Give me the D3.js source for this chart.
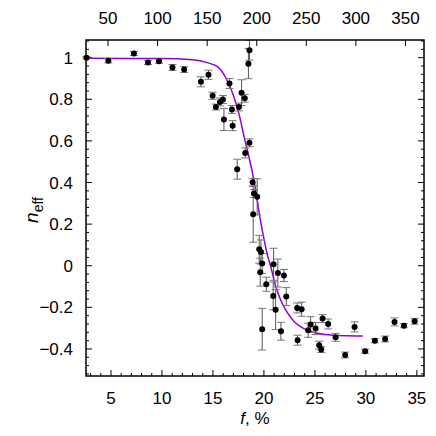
<!DOCTYPE html>
<html>
<head>
<meta charset="utf-8">
<script src="https://cdn.jsdelivr.net/npm/d3@7"></script>
<style>
  body { margin: 0; background: #fff; }
  svg text { font-family: "Liberation Sans", Arial, sans-serif; fill: #000; }
</style>
</head>
<body>
<div id="chart"></div>
<script>
// datos medidos
const fVals = [2.6, 4.74, 7.25, 8.63, 9.71, 11.03, 12.18, 13.82, 14.56, 14.97,
  15.29, 15.69, 15.98, 16.08, 16.93, 16.62, 16.86, 17.55, 17.81, 18.12,
  18.48, 18.58, 17.38, 18.17, 18.58, 18.89, 19.02, 19.34, 18.95, 19.54,
  19.71, 19.83, 19.64, 20.23, 19.83, 20.95, 21.37, 21.96, 20.91, 21.15,
  22.19, 21.67, 23.26, 23.70, 23.30, 24.34, 24.58, 25.07, 25.75, 26.30,
  25.42, 25.62, 27.03, 27.97, 28.89, 29.93, 30.88, 31.89, 32.81, 33.73, 34.78];
const nVals = [1.00, 0.985, 1.02, 0.977, 0.983, 0.953, 0.943, 0.884, 0.918, 0.817,
  0.763, 0.787, 0.799, 0.703, 0.673, 0.876, 0.751, 0.763, 0.832, 0.805,
  0.971, 1.036, 0.464, 0.542, 0.591, 0.401, 0.347, 0.331, 0.248, 0.079,
  0.066, 0.011, -0.031, -0.089, -0.305, 0.007, -0.035, -0.047, -0.145, -0.211,
  -0.148, -0.315, -0.203, -0.209, -0.358, -0.310, -0.283, -0.302, -0.254, -0.280,
  -0.382, -0.403, -0.344, -0.429, -0.294, -0.411, -0.360, -0.352, -0.270, -0.288, -0.267];
const nErr = [0.005, 0.01, 0.01, 0.01, 0.01, 0.014, 0.014, 0.024, 0.022, 0.017,
  0.014, 0.019, 0.019, 0.053, 0.024, 0.024, 0.019, 0.019, 0.062, 0.019,
  0.072, 0.048, 0.048, 0.024, 0.019, 0.019, 0.019, 0.087, 0.135, 0.067,
  0.058, 0.048, 0.067, 0.034, 0.10, 0.077, 0.067, 0.029, 0.067, 0.096,
  0.043, 0.043, 0.024, 0.034, 0.024, 0.034, 0.038, 0.029, 0.019, 0.024,
  0.019, 0.014, 0.019, 0.014, 0.024, 0.01, 0.01, 0.014, 0.019, 0.01, 0.014];

// curva de ajuste
const curveF = [2.55, 10, 13, 14.5, 15.5, 16.3, 17.0, 17.6, 18.1, 18.5, 18.9, 19.3,
  19.65, 20.0, 20.3, 20.7, 21.1, 21.6, 22.1, 23.0, 24.0, 25.0, 26.5, 28.0, 29.7];
const curveN = [0.997, 0.996, 0.99, 0.975, 0.955, 0.90, 0.82, 0.72, 0.61, 0.53, 0.44, 0.33,
  0.22, 0.13, 0.06, -0.01, -0.09, -0.16, -0.21, -0.27, -0.305, -0.322, -0.333, -0.337, -0.338];

const xTicks = [5, 10, 15, 20, 25, 30, 35];
const x2Ticks = [50, 100, 150, 200, 250, 300, 350];
const yTicks = [-0.4, -0.2, 0, 0.2, 0.4, 0.6, 0.8, 1];

const width = 436, height = 436;
const mLeft = 86, mRight = 424, mTop = 40, mBottom = 376;

const svg = d3.select('#chart')
    .append('svg')
    .attr('width', width)
    .attr('height', height);

svg.append('rect').attr('width', width).attr('height', height).attr('fill', '#fff');

let x = d3.scaleLinear().domain([2.55, 35.7]).range([mLeft, mRight]);
let x2 = d3.scaleLinear().domain([27.8, 368.7]).range([mLeft, mRight]);
let y = d3.scaleLinear().domain([-0.53, 1.085]).range([mBottom, mTop]);

// ticks
const minorX = d3.range(3, 36, 1).filter(d => !xTicks.includes(d));
const minorY = d3.range(-13, 28, 1).map(d => +(d * 0.04).toFixed(2))
    .filter(d => y(d) > mTop + 1 && y(d) < mBottom - 1 && !yTicks.some(t => Math.abs(t - d) < 1e-6));

const tk = svg.append('g').attr('stroke', '#000').attr('stroke-width', 1);

xTicks.forEach(d => {
    tk.append('line').attr('x1', x(d)).attr('x2', x(d)).attr('y1', mBottom).attr('y2', mBottom - 6);
});
minorX.forEach(d => {
    tk.append('line').attr('x1', x(d)).attr('x2', x(d)).attr('y1', mBottom).attr('y2', mBottom - 3);
});
x2Ticks.forEach(d => {
    tk.append('line').attr('x1', x2(d)).attr('x2', x2(d)).attr('y1', mTop).attr('y2', mTop + 6);
});
yTicks.forEach(d => {
    tk.append('line').attr('x1', mLeft).attr('x2', mLeft + 6).attr('y1', y(d)).attr('y2', y(d));
    tk.append('line').attr('x1', mRight).attr('x2', mRight - 6).attr('y1', y(d)).attr('y2', y(d));
});
minorY.forEach(d => {
    tk.append('line').attr('x1', mLeft).attr('x2', mLeft + 3).attr('y1', y(d)).attr('y2', y(d));
    tk.append('line').attr('x1', mRight).attr('x2', mRight - 3).attr('y1', y(d)).attr('y2', y(d));
});

// etiquetas
svg.selectAll('.xl').data(xTicks).enter().append('text')
    .attr('x', d => x(d)).attr('y', 404)
    .attr('text-anchor', 'middle').attr('font-size', 17)
    .text(d => d);

svg.selectAll('.x2l').data(x2Ticks).enter().append('text')
    .attr('x', d => x2(d)).attr('y', 24)
    .attr('text-anchor', 'middle').attr('font-size', 17)
    .text(d => d);

svg.selectAll('.yl').data(yTicks).enter().append('text')
    .attr('x', 73).attr('y', d => y(d) + 6)
    .attr('text-anchor', 'end').attr('font-size', 17)
    .text(d => d3.format('')(+d.toFixed(1)));

const xt = svg.append('text').attr('x', 255).attr('y', 424)
    .attr('text-anchor', 'middle').attr('font-size', 17);
xt.append('tspan').attr('font-style', 'italic').text('f');
xt.append('tspan').text(', %');

const yt = svg.append('text')
    .attr('transform', 'translate(38,' + 210 + ') rotate(-90)')
    .attr('text-anchor', 'middle').attr('font-size', 19);
yt.append('tspan').attr('font-style', 'italic').text('n');
yt.append('tspan').attr('font-size', 14).attr('dy', 5).text('eff');

// curva
const line = d3.line()
    .x((d, i) => x(curveF[i]))
    .y(d => y(d))
    .curve(d3.curveMonotoneX);

svg.append('path')
    .datum(curveN)
    .attr('d', line)
    .attr('fill', 'none')
    .attr('stroke', '#9400d3')
    .attr('stroke-width', 1.5);

// barras de error
const eb = svg.append('g').attr('stroke', '#555').attr('stroke-width', 1);
fVals.forEach((f, i) => {
    let cx = x(f), y0 = y(nVals[i] - nErr[i]), y1 = y(nVals[i] + nErr[i]);
    eb.append('line').attr('x1', cx).attr('x2', cx).attr('y1', y0).attr('y2', y1);
    eb.append('line').attr('x1', cx - 4).attr('x2', cx + 4).attr('y1', y0).attr('y2', y0).attr('stroke', '#777');
    eb.append('line').attr('x1', cx - 4).attr('x2', cx + 4).attr('y1', y1).attr('y2', y1).attr('stroke', '#777');
});

// puntos
svg.selectAll('.pt')
    .data(fVals)
    .enter()
    .append('circle')
    .attr('cx', d => x(d))
    .attr('cy', (d, i) => y(nVals[i]))
    .attr('r', 3)
    .attr('fill', '#000');

// marco
svg.append('rect')
    .attr('x', mLeft).attr('y', mTop)
    .attr('width', mRight - mLeft).attr('height', mBottom - mTop)
    .attr('fill', 'none').attr('stroke', '#000').attr('stroke-width', 1.5);
</script>
</body>
</html>
